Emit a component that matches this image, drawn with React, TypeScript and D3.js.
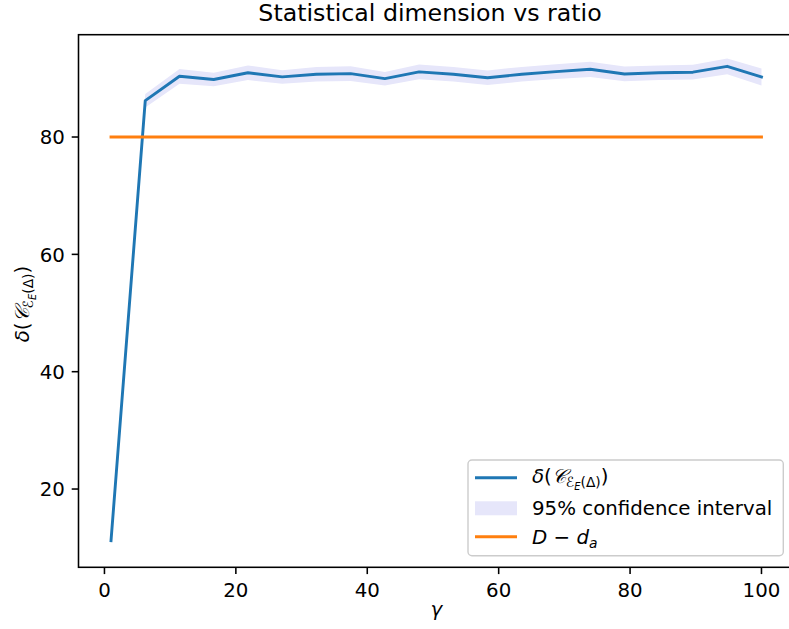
import React from "react";
import * as d3 from "d3";

const gammas = [1, 6.21, 11.42, 16.63, 21.84, 27.05, 32.26, 37.47, 42.68, 47.89, 53.1, 58.31, 63.52, 68.73, 73.94, 79.15, 84.36, 89.57, 94.78, 100];
const deltaMean = [11.2, 86.2, 90.35, 89.8, 90.95, 90.25, 90.7, 90.8, 89.95, 91.1, 90.7, 90.1, 90.7, 91.15, 91.55, 90.75, 90.95, 91.05, 92.05, 90.25];
const ciHalf = [0.4, 1.15, 1.25, 1.15, 1.25, 1.15, 1.25, 1.25, 1.15, 1.25, 1.25, 1.25, 1.25, 1.25, 1.3, 1.25, 1.25, 1.25, 1.35, 1.45];
const dMinusDa = 80;
const xTicks = [0, 20, 40, 60, 80, 100];
const yTicks = [20, 40, 60, 80];

const W = 789;
const H = 629;
const L = 78.5, R = 794, T = 34.7, B = 567.3;
const FS = 19.8;
const FONT = "DejaVu Sans, Liberation Sans, sans-serif";

export default function App() {
  const x = d3.scaleLinear().domain([-3.95, 104.95]).range([L, R]);
  const y = d3.scaleLinear().domain([6.66, 97.44]).range([B, T]);
  const idx = d3.range(gammas.length);
  const area = d3
    .area<number>()
    .x((i) => x(gammas[i]))
    .y0((i) => y(deltaMean[i] - ciHalf[i]))
    .y1((i) => y(deltaMean[i] + ciHalf[i]));
  const line = d3
    .line<number>()
    .x((i) => x(gammas[i]))
    .y((i) => y(deltaMean[i]));
  const hline = d3.line<number>().x((g) => x(g)).y(() => y(dMinusDa));

  const blue = "#1f77b4";
  const orange = "#ff7f0e";
  const band = "#e6e6fa";

  const deltaLabel = (fs: number) => (
    <>
      <tspan fontStyle="italic">δ</tspan>
      <tspan>(</tspan>
      <tspan fontStyle="italic" fontFamily="DejaVu Serif, serif">𝒞</tspan>
      <tspan fontSize={fs * 0.7} dy={fs * 0.2} fontStyle="italic">ℰ</tspan>
      <tspan fontSize={fs * 0.5} dy={fs * 0.15} fontStyle="italic">E</tspan>
      <tspan fontSize={fs * 0.7} dy={-fs * 0.15}>(Δ)</tspan>
      <tspan fontSize={fs} dy={-fs * 0.2}>)</tspan>
    </>
  );

  const legX = 468, legY = 460, legW = 315.3, legH = 95.7;
  const rows = [477.7, 508.3, 536.7];

  return (
    <svg width={W} height={H} style={{ position: "absolute", left: 0, top: 0 }} fontFamily={FONT}>
      <rect x={0} y={0} width={W} height={H} fill="#fff" />
      <path d={area(idx) || ""} fill={band} stroke="none" />
      <path d={line(idx) || ""} fill="none" stroke={blue} strokeWidth={2.9} strokeLinejoin="round" strokeLinecap="square" />
      <path d={hline([gammas[0], gammas[gammas.length - 1]]) || ""} fill="none" stroke={orange} strokeWidth={2.9} strokeLinecap="square" />

      {/* spines */}
      <rect x={L} y={T} width={R - L} height={B - T} fill="none" stroke="#000" strokeWidth={1.56} />

      {/* x ticks */}
      {xTicks.map((t) => (
        <g key={"x" + t}>
          <line x1={x(t)} x2={x(t)} y1={B} y2={B + 6.8} stroke="#000" strokeWidth={1.56} />
          <text x={x(t)} y={596.7} fontSize={FS} textAnchor="middle" fill="#000">{t}</text>
        </g>
      ))}
      {/* y ticks */}
      {yTicks.map((t) => (
        <g key={"y" + t}>
          <line x1={L} x2={L - 6.8} y1={y(t)} y2={y(t)} stroke="#000" strokeWidth={1.56} />
          <text x={L - 13.6} y={y(t) + 7.2} fontSize={FS} textAnchor="end" fill="#000">{t}</text>
        </g>
      ))}

      {/* title */}
      <text x={430} y={21} fontSize={23.7} textAnchor="middle" fill="#000">Statistical dimension vs ratio</text>

      {/* x label */}
      <text x={(L + R) / 2} y={616} fontSize={FS} textAnchor="middle" fontStyle="italic" fill="#000">γ</text>

      {/* y label */}
      <text transform={`translate(29,304) rotate(-90)`} fontSize={FS} textAnchor="middle" fill="#000">
        {deltaLabel(FS)}
      </text>

      {/* legend */}
      <rect x={legX} y={legY} width={legW} height={legH} rx={4} ry={4} fill="#fff" fillOpacity={0.8} stroke="#cccccc" strokeWidth={1.4} />
      <line x1={475} x2={517} y1={rows[0]} y2={rows[0]} stroke={blue} strokeWidth={2.9} />
      <text x={532} y={rows[0] + 5} fontSize={FS} fill="#000">{deltaLabel(FS)}</text>
      <rect x={475} y={rows[1] - 7} width={42} height={14} fill={band} />
      <text x={532} y={rows[1] + 7} fontSize={FS} fill="#000">95% confidence interval</text>
      <line x1={475} x2={517} y1={rows[2]} y2={rows[2]} stroke={orange} strokeWidth={2.9} />
      <text x={532} y={rows[2] + 7} fontSize={FS} fill="#000">
        <tspan fontStyle="italic">D</tspan>
        <tspan> − </tspan>
        <tspan fontStyle="italic">d</tspan>
        <tspan fontSize={FS * 0.7} dy={FS * 0.2} fontStyle="italic">a</tspan>
      </text>
    </svg>
  );
}
